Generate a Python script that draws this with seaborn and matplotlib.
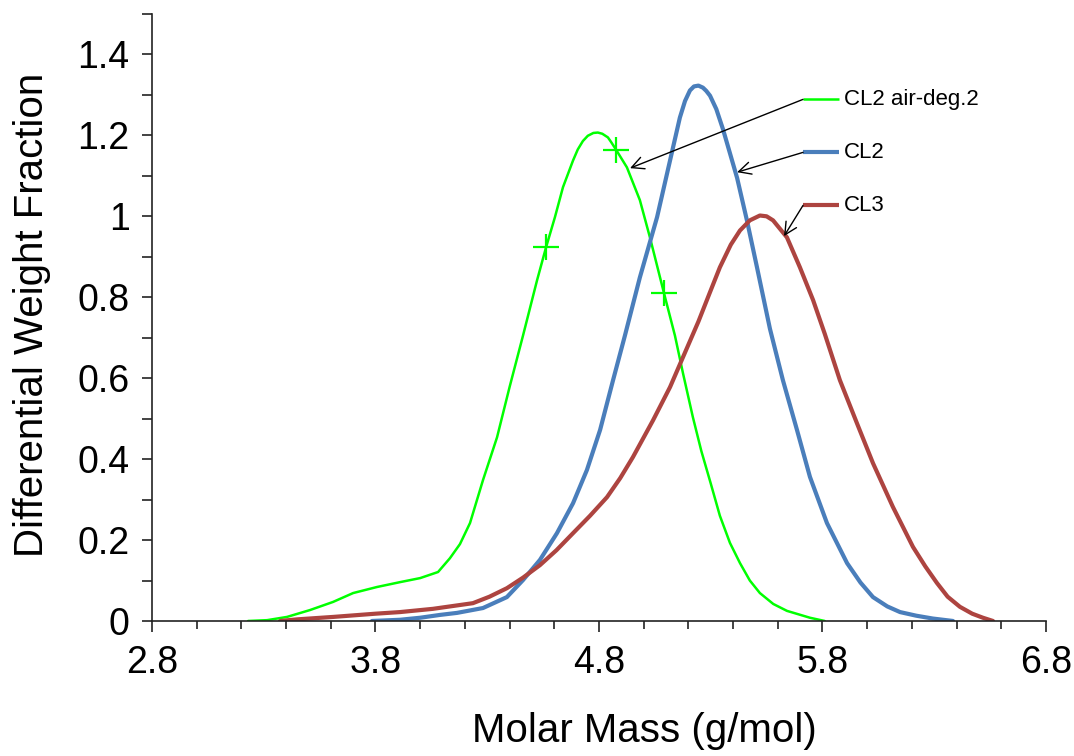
import numpy as np
import pandas as pd
import matplotlib
matplotlib.use("Agg")
import matplotlib.pyplot as plt
from matplotlib.ticker import FixedLocator, FuncFormatter
import seaborn as sns

# ---------------- data ----------------
green_x = [3.23, 3.315, 3.404, 3.507, 3.61, 3.70, 3.807, 3.91, 4.00, 4.08, 4.133, 4.178,
           4.223, 4.281, 4.344, 4.40, 4.46, 4.523, 4.563, 4.603, 4.639, 4.684, 4.705, 4.728,
           4.75, 4.775, 4.795, 4.815, 4.84, 4.855, 4.876, 4.925, 4.983, 5.028, 5.091, 5.14,
           5.176, 5.22, 5.258, 5.30, 5.341, 5.386, 5.431, 5.475, 5.52, 5.58, 5.641, 5.744, 5.81]
green_y = [0.0, 0.002, 0.01, 0.027, 0.047, 0.069, 0.084, 0.096, 0.106, 0.121, 0.155, 0.19,
           0.242, 0.348, 0.454, 0.578, 0.705, 0.842, 0.923, 0.998, 1.072, 1.138, 1.165, 1.186,
           1.199, 1.206, 1.207, 1.204, 1.195, 1.183, 1.165, 1.121, 1.04, 0.948, 0.81, 0.705,
           0.612, 0.504, 0.42, 0.34, 0.26, 0.193, 0.143, 0.1, 0.069, 0.042, 0.025, 0.008, 0.0]
green_marker_x = [4.563, 4.876, 5.091]
green_marker_y = [0.923, 1.165, 0.81]

blue_x = [3.784, 3.91, 4.0, 4.089, 4.165, 4.281, 4.388, 4.46, 4.536, 4.612, 4.684, 4.746,
          4.805, 4.863, 4.916, 4.983, 5.06, 5.118, 5.162, 5.185, 5.207, 5.225, 5.245, 5.265,
          5.28, 5.297, 5.325, 5.355, 5.418, 5.462, 5.507, 5.565, 5.623, 5.686, 5.744, 5.82,
          5.91, 5.97, 6.026, 6.09, 6.147, 6.22, 6.294, 6.384]
blue_y = [0.0, 0.003, 0.008, 0.015, 0.02, 0.032, 0.059, 0.101, 0.151, 0.217, 0.291, 0.373,
          0.472, 0.595, 0.705, 0.849, 0.998, 1.138, 1.244, 1.285, 1.311, 1.321, 1.323, 1.318,
          1.31, 1.298, 1.265, 1.215, 1.095, 0.99, 0.874, 0.722, 0.595, 0.472, 0.356, 0.242,
          0.143, 0.095, 0.059, 0.036, 0.022, 0.013, 0.006, 0.0]

red_x = [3.373, 3.45, 3.61, 3.80, 3.91, 4.057, 4.236, 4.31, 4.388, 4.46, 4.536, 4.61, 4.684,
         4.76, 4.836, 4.895, 4.952, 5.042, 5.118, 5.176, 5.245, 5.295, 5.341, 5.39, 5.431,
         5.475, 5.52, 5.55, 5.579, 5.641, 5.699, 5.758, 5.81, 5.878, 5.954, 6.026, 6.115,
         6.205, 6.26, 6.312, 6.36, 6.415, 6.47, 6.518, 6.563]
red_y = [0.0, 0.004, 0.01, 0.018, 0.022, 0.03, 0.044, 0.06, 0.081, 0.107, 0.138, 0.175, 0.217,
         0.26, 0.306, 0.353, 0.405, 0.496, 0.578, 0.652, 0.74, 0.81, 0.874, 0.93, 0.965,
         0.99, 1.002, 1.0, 0.99, 0.948, 0.874, 0.793, 0.71, 0.595, 0.489, 0.39, 0.282,
         0.183, 0.135, 0.094, 0.06, 0.035, 0.018, 0.008, 0.0]

series_names = ["CL2 air-deg.2", "CL2", "CL3"]
series_colors = ["#00FF00", "#4A7EBB", "#AD4440"]
series_widths = [1.8, 3.0, 3.0]

x_major = [2.8, 3.8, 4.8, 5.8, 6.8]
y_major = [0, 0.2, 0.4, 0.6, 0.8, 1.0, 1.2, 1.4]

# annotation layout (label key start, arrow tip) in data units
label_key_y = [1.289, 1.158, 1.027]
arrow_tip = [(4.939, 1.119), (5.418, 1.109), (5.628, 0.951)]

# ---------------- plot ----------------
sns.set_style("white")
plt.rcParams["font.family"] = ["Liberation Sans", "DejaVu Sans"]
plt.rcParams["text.color"] = "black"
plt.rcParams["axes.labelcolor"] = "black"
plt.rcParams["xtick.color"] = "black"
plt.rcParams["ytick.color"] = "black"

fig = plt.figure(figsize=(10.74, 7.56), dpi=100)
ax = fig.add_axes([0.1415, 0.1786, 0.8324, 0.8029])

frames = [
    pd.DataFrame({"x": green_x, "y": green_y}),
    pd.DataFrame({"x": blue_x, "y": blue_y}),
    pd.DataFrame({"x": red_x, "y": red_y}),
]
for df, c, w in zip(frames, series_colors, series_widths):
    sns.lineplot(data=df, x="x", y="y", ax=ax, color=c, linewidth=w,
                 sort=False, estimator=None, solid_joinstyle="round")

sns.scatterplot(x=green_marker_x, y=green_marker_y, ax=ax, marker="+",
                s=330, color="#00FF00", linewidth=1.6, zorder=5)

ax.set_xlim(2.8, 6.8)
ax.set_ylim(0, 1.5)

for s in ["top", "right"]:
    ax.spines[s].set_visible(False)
for s in ["left", "bottom"]:
    ax.spines[s].set_color("#222222")
    ax.spines[s].set_linewidth(1.2)

ax.xaxis.set_major_locator(FixedLocator(x_major))
ax.xaxis.set_minor_locator(FixedLocator(np.round(np.arange(2.8, 6.81, 0.2), 2)))
ax.yaxis.set_major_locator(FixedLocator(y_major))
ax.yaxis.set_minor_locator(FixedLocator(np.round(np.arange(0.1, 1.51, 0.2), 2)))
fmt = FuncFormatter(lambda v, p: "%g" % round(v, 2))
ax.xaxis.set_major_formatter(fmt)
ax.yaxis.set_major_formatter(fmt)

ax.tick_params(axis="x", which="major", direction="out", length=8, width=1.2,
               color="#222222", labelsize=27, pad=9, bottom=True, labelcolor="black")
ax.tick_params(axis="x", which="minor", direction="out", length=5.8, width=1.2,
               color="#222222", bottom=True)
ax.tick_params(axis="y", which="major", direction="out", length=7, width=1.2,
               color="#222222", labelsize=27, pad=9, left=True, labelcolor="black")
ax.tick_params(axis="y", which="minor", direction="out", length=7, width=1.2,
               color="#222222", left=True)

ax.set_xlabel("Molar Mass (g/mol)", fontsize=29, color="black")
ax.set_ylabel("Differential Weight Fraction", fontsize=29, color="black")
ax.xaxis.set_label_coords(0.551, -0.150)
ax.yaxis.set_label_coords(-0.113, 0.504)

# series labels with key line and arrow
key_x0, key_x1, text_x = 5.713, 5.874, 5.897
for name, c, w, ky, tip in zip(series_names, series_colors, series_widths, label_key_y, arrow_tip):
    ax.plot([key_x0, key_x1], [ky, ky], color=c, linewidth=w, solid_capstyle="butt",
            clip_on=False)
    ax.text(text_x, ky, name, fontsize=16, va="center", ha="left", color="black")
    ax.annotate("", xy=tip, xytext=(key_x0, ky),
                arrowprops=dict(arrowstyle="->", color="black", lw=1.0,
                                mutation_scale=22, shrinkA=0, shrinkB=0))

fig.savefig("out.png", dpi=100)
